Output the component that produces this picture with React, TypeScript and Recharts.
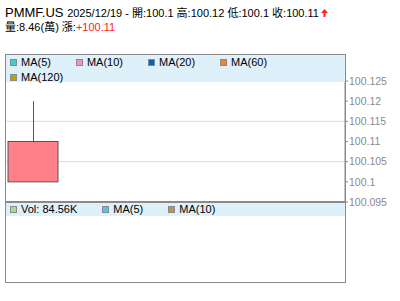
import { Bar, CartesianGrid, ComposedChart, XAxis, YAxis } from 'recharts'

const symbol = 'PMMF.US'
const dates = ['2025/12/19']
const opens = [100.1]
const highs = [100.12]
const lows = [100.1]
const closes = [100.11]
const volumeWan = ['8.46']
const volumeK = ['84.56K']
const changes = ['+100.11']
const priceTicks = [100.095, 100.1, 100.105, 100.11, 100.115, 100.12, 100.125]
const maLabels = ['MA(5)', 'MA(10)', 'MA(20)', 'MA(60)', 'MA(120)']
const maColors = ['#3ccfcf', '#ff8ac4', '#0764b4', '#ff801e', '#b4a500']
const volMaLabels = ['MA(5)', 'MA(10)']
const volMaColors = ['#54c2f0', '#c68d4b']
const volColor = '#a3df8e'

// the chart reserves a few empty slots to the right of the single candle
const SLOTS = 6

const FONT = 'Arial, "Liberation Sans", "Noto Sans CJK TC", sans-serif'
const LEGEND_BG = '#def0fa'
const FRAME = '#8a8a8a'
const UP = '#ff8088'
const RED = '#ff2020'

const rows = Array.from({ length: SLOTS }, (_, i) =>
  i < dates.length
    ? {
        date: dates[i],
        open: opens[i],
        high: highs[i],
        low: lows[i],
        close: closes[i],
        body: [opens[i], closes[i]],
      }
    : { date: `slot${i}` },
)

function Candle(props: any) {
  const { x, y, width, height, payload } = props
  if (payload == null || payload.open == null) return null
  const top = Math.min(y, y + height)
  const h = Math.abs(height)
  const span = Math.abs(payload.close - payload.open)
  const k = span > 0 ? h / span : 0
  const bodyHi = Math.max(payload.open, payload.close)
  const bodyLo = Math.min(payload.open, payload.close)
  const cx = Math.round(x + width / 2) + 0.5
  return (
    <g>
      <line x1={cx} x2={cx} y1={top - (payload.high - bodyHi) * k} y2={top} stroke="#555" />
      <line x1={cx} x2={cx} y1={top + h} y2={top + h + (bodyLo - payload.low) * k} stroke="#555" />
      <rect x={x} y={top} width={width} height={h} fill={UP} stroke="#555" />
    </g>
  )
}

function LegendItem({ color, label }: { color: string; label: string }) {
  return (
    <div style={{ display: 'flex', alignItems: 'center', marginRight: 25, height: 15 }}>
      <span
        style={{
          width: 5,
          height: 5,
          background: color,
          border: `1px solid ${FRAME}`,
          marginRight: 4,
        }}
      />
      <span>{label}</span>
    </div>
  )
}

function UpArrow() {
  return (
    <svg width={7} height={8} style={{ marginLeft: 2, verticalAlign: 'baseline' }}>
      <path d="M3.5 0 L7 4 L4.5 4 L4.5 8 L2.5 8 L2.5 4 L0 4 Z" fill={RED} />
    </svg>
  )
}

export default function App() {
  const last = dates.length - 1
  return (
    <div
      style={{
        position: 'absolute',
        left: 0,
        top: 0,
        width: 400,
        height: 301,
        background: '#fff',
        fontFamily: FONT,
        overflow: 'hidden',
      }}
    >
      <ComposedChart
        width={400}
        height={301}
        data={rows}
        margin={{ top: 81, right: 0, bottom: 99, left: 6 }}
        barCategoryGap={0}
        style={{ position: 'absolute', left: 0, top: 0 }}
      >
        <CartesianGrid vertical={false} stroke="#dcdcdc" />
        <XAxis dataKey="date" hide padding={{ left: 0, right: 12 }} />
        <YAxis
          orientation="right"
          width={55}
          domain={[100.095, 100.125]}
          ticks={priceTicks}
          allowDataOverflow
          tickSize={3}
          tickMargin={1}
          axisLine={{ stroke: FRAME }}
          tickLine={{ stroke: FRAME }}
          tick={{ fill: '#8a8a8a', fontSize: 10.5, fontFamily: FONT }}
        />
        <Bar dataKey="body" barSize={50} shape={<Candle />} isAnimationActive={false} />
      </ComposedChart>

      <div
        style={{
          position: 'absolute',
          left: 5,
          top: 6,
          fontSize: 13,
          lineHeight: '13px',
          whiteSpace: 'nowrap',
          color: '#000',
        }}
      >
        {symbol}{' '}
        <span style={{ fontSize: 11 }}>
          {dates[last]} - 開:{opens[last]} 高:{highs[last]} 低:{lows[last]} 收:{closes[last]}
        </span>
        <UpArrow />
      </div>
      <div
        style={{
          position: 'absolute',
          left: 5,
          top: 21,
          fontSize: 11,
          lineHeight: '13px',
          whiteSpace: 'nowrap',
          color: '#000',
        }}
      >
        量:{volumeWan[last]}(萬) 漲:<span style={{ color: RED }}>{changes[last]}</span>
      </div>

      {/* price panel frame + legend */}
      <div
        style={{
          position: 'absolute',
          left: 5,
          top: 54,
          width: 339,
          height: 227,
          border: `1px solid ${FRAME}`,
        }}
      />
      <div
        style={{
          position: 'absolute',
          left: 6,
          top: 55,
          width: 335,
          height: 27,
          paddingLeft: 4,
          background: LEGEND_BG,
          display: 'flex',
          flexWrap: 'wrap',
          alignContent: 'flex-start',
          fontSize: 11,
          lineHeight: '15px',
        }}
      >
        {maLabels.map((l, i) => (
          <LegendItem key={l} label={l} color={maColors[i]} />
        ))}
      </div>

      {/* volume panel */}
      <div style={{ position: 'absolute', left: 5, top: 201, width: 341, height: 2, background: FRAME }} />
      <div
        style={{
          position: 'absolute',
          left: 6,
          top: 203,
          width: 335,
          height: 13,
          paddingLeft: 4,
          background: LEGEND_BG,
          display: 'flex',
          alignItems: 'center',
          fontSize: 11,
          lineHeight: '13px',
        }}
      >
        <LegendItem label={`Vol: ${volumeK[last]}`} color={volColor} />
        {volMaLabels.map((l, i) => (
          <LegendItem key={l} label={l} color={volMaColors[i]} />
        ))}
      </div>
    </div>
  )
}
